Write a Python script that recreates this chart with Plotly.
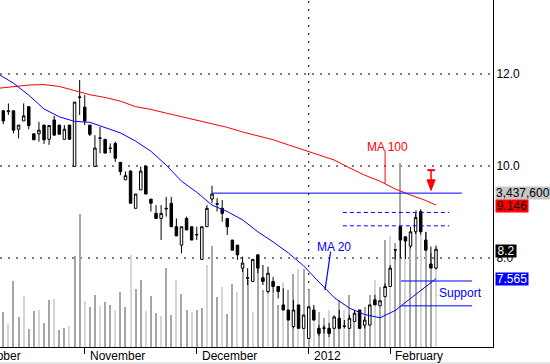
import plotly.graph_objects as go

# ---------------- data ----------------
opens = [11.20, 11.18, 11.20, 10.80, 10.98, 11.29, 10.70, 10.70, 10.89, 10.58,
         11.00, 10.89, 10.58, 10.89, 9.99, 11.49, 11.28, 10.89, 9.99, 10.60,
         10.58, 10.38, 10.49, 10.08, 9.70, 9.89, 9.08, 9.48, 10.00, 9.28,
         8.97, 8.86, 9.08, 9.19, 8.68, 8.28, 8.86, 8.68, 8.50, 7.97,
         8.68, 9.28, 9.17, 9.08, 8.86, 8.39, 8.28, 7.78, 7.56, 7.49,
         8.07, 7.57, 7.27, 7.49, 7.38, 6.98, 6.87, 6.51, 6.98, 6.47,
         6.25, 6.87, 6.47, 6.47, 6.47, 6.47, 6.69, 6.51, 6.47, 6.62,
         6.87, 6.54, 6.54, 7.09, 6.96, 7.16, 7.38, 8.17, 8.68, 8.46,
         8.26, 8.57, 9.01, 8.39, 7.87, 7.78]
highs = [11.22, 11.36, 11.20, 10.89, 11.36, 11.29, 10.70, 10.96, 10.89, 10.88,
         11.09, 10.89, 10.89, 10.89, 11.39, 11.87, 11.54, 10.89, 10.67, 10.85,
         10.58, 10.49, 10.53, 10.08, 9.88, 9.91, 9.39, 9.99, 10.00, 9.28,
         9.15, 9.15, 9.33, 9.33, 8.86, 8.68, 8.90, 8.68, 8.68, 8.68,
         9.15, 9.57, 9.30, 9.26, 8.86, 8.39, 8.28, 8.03, 7.78, 7.97,
         8.07, 7.85, 7.81, 7.59, 7.38, 7.34, 6.87, 7.09, 6.98, 6.76,
         6.94, 6.98, 6.54, 6.54, 6.59, 6.72, 6.87, 6.65, 6.76, 6.87,
         6.87, 6.72, 6.98, 7.20, 7.07, 7.45, 7.85, 8.19, 8.68, 8.46,
         8.68, 8.97, 9.06, 8.57, 8.25, 8.27]
lows = [10.91, 11.11, 10.71, 10.60, 10.98, 10.80, 10.57, 10.53, 10.48, 10.46,
        10.67, 10.69, 10.58, 10.58, 9.99, 11.11, 10.89, 10.65, 9.99, 10.28,
        10.28, 10.28, 10.09, 9.80, 9.70, 9.19, 9.08, 9.48, 9.39, 9.01,
        8.86, 8.39, 8.90, 8.68, 8.48, 8.10, 8.61, 8.39, 8.39, 7.97,
        8.68, 9.19, 9.01, 8.79, 8.50, 8.17, 7.96, 7.70, 7.41, 7.49,
        7.67, 7.41, 7.23, 7.23, 7.12, 6.87, 6.65, 6.47, 6.47, 6.47,
        6.25, 6.65, 6.30, 6.36, 6.28, 6.47, 6.47, 6.47, 6.47, 6.62,
        6.47, 6.47, 6.54, 6.98, 6.96, 7.16, 7.38, 7.97, 7.99, 7.98,
        8.21, 8.52, 8.50, 8.17, 7.78, 7.75]
closes = [10.98, 11.20, 10.78, 10.89, 11.09, 10.88, 10.57, 10.78, 10.57, 10.88,
          10.67, 10.69, 10.80, 10.58, 11.39, 11.50, 10.98, 10.69, 10.39, 10.61,
          10.28, 10.39, 10.17, 9.88, 9.79, 9.19, 9.39, 9.89, 9.39, 9.19,
          8.86, 8.97, 9.07, 8.68, 8.48, 8.68, 8.61, 8.39, 8.51, 8.68,
          9.08, 9.39, 9.18, 8.97, 8.68, 8.17, 8.07, 7.89, 7.57, 7.97,
          7.78, 7.49, 7.67, 7.38, 7.27, 6.87, 6.65, 6.87, 6.47, 6.76,
          6.94, 6.65, 6.36, 6.48, 6.36, 6.72, 6.47, 6.52, 6.69, 6.80,
          6.47, 6.65, 6.98, 6.98, 7.07, 7.38, 7.78, 8.18, 8.39, 8.37,
          8.57, 8.88, 8.57, 8.17, 7.78, 8.19]
volume_k = [875, 585, 1650, 750, 1268, 443, 893, 918, 600, 1168,
            1193, 435, 485, 518, 2275, 3335, 1143, 1000, 1293, 1025,
            1125, 1043, 935, 1375, 1000, 2293, 1443, 1668, 893, 1268,
            850, 768, 1975, 793, 1685, 1318, 935, 875, 918, 975,
            2043, 2525, 1250, 1500, 835, 1585, 1375, 2043, 1668, 875,
            2043, 1418, 1543, 1335, 1043, 1625, 1418, 1835, 1960, 1960,
            1418, 1000, 875, 718, 918, 793, 1168, 918, 1293, 843,
            668, 1000, 1293, 1668, 1500, 2668, 2768, 2593, 4593, 2768,
            2868, 3418, 2793, 2868, 2343, 2493]

ma_idx = [-1, 2, 5, 8, 11, 14, 17, 20, 23, 26, 29, 32, 35, 38, 41, 44, 47, 50,
          53, 56, 59, 62, 65, 68, 71, 74, 77, 80, 83, 85]
ma20 = [12.00, 11.80, 11.54, 11.24, 11.07, 10.97, 10.95, 10.83, 10.72, 10.54,
        10.32, 10.02, 9.67, 9.43, 9.15, 9.01, 8.83, 8.57, 8.35, 8.11,
        7.83, 7.48, 7.14, 6.91, 6.77, 6.70, 6.86, 7.12, 7.39, 7.55]
ma100 = [11.69, 11.72, 11.76, 11.77, 11.73, 11.64, 11.55, 11.49, 11.41, 11.29,
         11.23, 11.15, 11.07, 10.99, 10.92, 10.84, 10.74, 10.65, 10.57, 10.46,
         10.35, 10.24, 10.13, 9.96, 9.80, 9.67, 9.50, 9.37, 9.25, 9.15]

month_first_idx = [-6, 16, 38, 60, 76]
month_labels = ["October", "November", "December", "2012", "February"]
price_ticks = [8.0, 10.0, 12.0]

resistance_level = 9.41
target_levels = [8.99, 8.70]
support_levels = [7.50, 6.96]

last_volume_text = "3,437,600"
ma100_last_text = "9.146"
close_last_text = "8.2"
ma20_last_text = "7.565"

# ---------------- layout constants ----------------
X_RANGE = [-0.65, 96.2]
Y_RANGE = [6.065, 13.609]
VOL_RANGE = [0, 8675]
DOTS = '2px,6px'

def xpaper(i):
    return (i - X_RANGE[0]) / (X_RANGE[1] - X_RANGE[0])

idx = list(range(len(closes)))
vol_colors = ['#d6d6d6' if i % 3 == 1 else '#a6a6a6' for i in idx]

fig = go.Figure()
fig.add_trace(go.Bar(x=idx, y=volume_k, yaxis='y', width=0.22,
                     marker=dict(color=vol_colors, line=dict(width=0)),
                     hoverinfo='skip', showlegend=False))
fig.add_trace(go.Candlestick(x=idx, open=opens, high=highs, low=lows, close=closes,
                             yaxis='y2', whiskerwidth=0,
                             increasing=dict(line=dict(color='black', width=1), fillcolor='white'),
                             decreasing=dict(line=dict(color='black', width=1), fillcolor='black'),
                             showlegend=False))
fig.add_trace(go.Scatter(x=ma_idx, y=ma100, yaxis='y2', mode='lines',
                         line=dict(color='#ff0000', width=1), showlegend=False))
fig.add_trace(go.Scatter(x=ma_idx, y=ma20, yaxis='y2', mode='lines',
                         line=dict(color='#0000ff', width=1), showlegend=False))

shapes = []
BLUE = '#0000ff'
RED = '#ff0000'
# dotted price grid lines
for lv in price_ticks:
    shapes.append(dict(type='line', xref='paper', yref='y2', x0=0, x1=1, y0=lv, y1=lv,
                       line=dict(color='black', width=1, dash=DOTS), layer='below'))
# year separator grid line
shapes.append(dict(type='line', xref='x', yref='paper', x0=60, x1=60, y0=0, y1=1,
                   line=dict(color='black', width=1, dash=DOTS), layer='below'))
# resistance line from the December high
shapes.append(dict(type='line', xref='x', yref='y2', x0=41, x1=90.1,
                   y0=resistance_level, y1=resistance_level, line=dict(color=BLUE, width=1)))
for lv in target_levels:
    shapes.append(dict(type='line', xref='x', yref='y2', x0=66.7, x1=87.6,
                       y0=lv, y1=lv, line=dict(color=BLUE, width=1, dash='4px,3px')))
for lv in support_levels:
    shapes.append(dict(type='line', xref='x', yref='y2', x0=78.1, x1=92.1,
                       y0=lv, y1=lv, line=dict(color=BLUE, width=1)))
# pointers
shapes.append(dict(type='line', xref='x', yref='y2', x0=75.0, x1=75.0, y0=10.33, y1=9.63,
                   line=dict(color=RED, width=1)))
shapes.append(dict(type='line', xref='x', yref='y2', x0=64.3, x1=63.2, y0=8.14, y1=7.30,
                   line=dict(color=BLUE, width=1.2)))
# red arrow
shapes.append(dict(type='line', xref='x', yref='y2', x0=83.3, x1=84.8, y0=9.91, y1=9.91,
                   line=dict(color=RED, width=2)))
shapes.append(dict(type='line', xref='x', yref='y2', x0=84.03, x1=84.03, y0=9.91, y1=9.68,
                   line=dict(color=RED, width=1.5)))
shapes.append(dict(type='path', xref='x', yref='y2',
                   path='M 83.24 9.70 L 84.82 9.70 L 84.03 9.47 Z',
                   fillcolor=RED, line=dict(color=RED, width=1)))
# thin grey strip along the bottom edge of the picture
shapes.append(dict(type='rect', xref='paper', yref='paper', x0=0, x1=550 / 493,
                   y0=-17 / 347, y1=-15 / 347, fillcolor='#e4e4e4', line=dict(width=0)))

annotations = []
for m, lab in zip(month_first_idx, month_labels):
    annotations.append(dict(x=xpaper(m), y=0, xref='paper', yref='paper', text=lab,
                            showarrow=False, xanchor='left', yanchor='top', xshift=3,
                            yshift=0, font=dict(size=12, color='black')))
annotations.append(dict(x=75.5, y=10.41, xref='x', yref='y2', text='MA 100', showarrow=False,
                        font=dict(size=12, color=RED)))
annotations.append(dict(x=65.0, y=8.25, xref='x', yref='y2', text='MA 20', showarrow=False,
                        font=dict(size=12, color=BLUE)))
annotations.append(dict(x=85.2, y=7.24, xref='x', yref='y2', text='Support', showarrow=False,
                        xanchor='left', font=dict(size=12, color=BLUE)))

label_x = 1 + 2 / 493
for txt, yv, bg, fg, w in [(last_volume_text, 9.424, '#c6c6c6', 'black', 60),
                           (ma100_last_text, 9.13, RED, 'black', 32),
                           (close_last_text, 8.163, 'black', 'white', 20),
                           (ma20_last_text, 7.533, BLUE, 'white', 32)]:
    annotations.append(dict(x=label_x, y=yv, xref='paper', yref='y2', text=txt,
                            showarrow=False, xanchor='left', yanchor='middle', height=12,
                            width=w, align='center' if w < 50 else 'left',
                            bgcolor=bg, borderpad=0, font=dict(size=12, color=fg)))

fig.update_layout(
    width=550, height=364,
    margin=dict(l=0, r=57, t=0, b=17),
    paper_bgcolor='white', plot_bgcolor='white',
    font=dict(family='Arial, "Liberation Sans", sans-serif', size=12, color='black'),
    showlegend=False, bargap=0, boxgap=0.3,
    xaxis=dict(range=X_RANGE, tickvals=month_first_idx[1:], ticks='outside', ticklen=6,
               tickcolor='black', tickwidth=1, showticklabels=False, showgrid=False,
               zeroline=False, showline=True, linecolor='black', linewidth=1,
               rangeslider=dict(visible=False), fixedrange=True),
    yaxis=dict(range=VOL_RANGE, visible=False, fixedrange=True),
    yaxis2=dict(range=Y_RANGE, overlaying='y', side='right', tickvals=price_ticks,
                ticktext=[f'{v:.1f}' for v in price_ticks], ticks='',
                showgrid=False, showline=True, linecolor='black', linewidth=1, zeroline=False,
                tickfont=dict(size=12, color='black'), fixedrange=True),
    shapes=shapes, annotations=annotations,
)

fig.write_html("out.html", config={'displayModeBar': False})
